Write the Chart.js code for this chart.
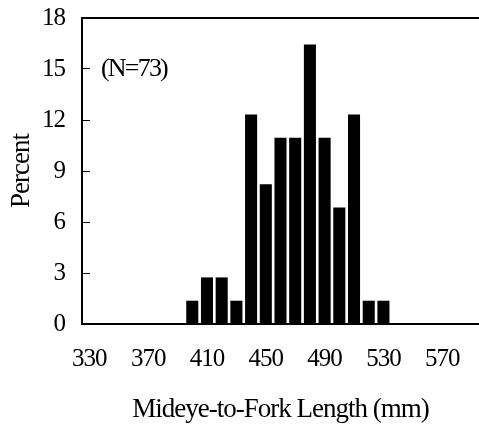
<!DOCTYPE html>
<html>
<head>
<meta charset="utf-8">
<script src="https://cdn.jsdelivr.net/npm/chart.js@4"></script>
<style>
  html, body { margin: 0; padding: 0; background: #fff; }
  #wrap { width: 479px; height: 426px; }
</style>
</head>
<body>
<div id="wrap"><canvas id="lengthChart" width="479" height="426"></canvas></div>
<script>
// 10 mm length bins, 330 - 590
const binStarts = [330, 340, 350, 360, 370, 380, 390, 400, 410, 420, 430, 440, 450, 460,
                   470, 480, 490, 500, 510, 520, 530, 540, 550, 560, 570, 580, 590];
// percent of fish in each bin (N = 73)
const percents = [0, 0, 0, 0, 0, 0, 0, 1.37, 2.74, 2.74, 1.37, 12.33, 8.22, 10.96,
                  10.96, 16.44, 10.96, 6.85, 12.33, 1.37, 1.37, 0, 0, 0, 0, 0, 0];
const xLabelsShown = [330, 370, 410, 450, 490, 530, 570];
const yTicks = [0, 3, 6, 9, 12, 15, 18];
const sampleNote = '(N=73)';

const serif = "'Liberation Serif', 'Times New Roman', serif";

// tighter letters, like the condensed Times in the original
const tightText = {
    id: 'tightText',
    beforeLayout(chart) { chart.ctx.letterSpacing = '-1px'; },
    beforeDraw(chart) { chart.ctx.letterSpacing = '-1px'; }
};

// top frame line + sample size note
const frameAndNote = {
    id: 'frameAndNote',
    afterDraw(chart) {
        const { ctx, chartArea } = chart;
        ctx.save();
        ctx.strokeStyle = '#000';
        ctx.lineWidth = 2;
        ctx.beginPath();
        ctx.moveTo(chartArea.left - 1, chartArea.top);
        ctx.lineTo(chart.width, chartArea.top);
        ctx.stroke();
        ctx.fillStyle = '#000';
        ctx.font = '26px ' + serif;
        ctx.letterSpacing = '-1.8px';
        ctx.textBaseline = 'middle';
        ctx.fillText(sampleNote, chartArea.left + 19, chart.scales.y.getPixelForValue(15));
        ctx.restore();
    }
};

new Chart(document.getElementById('lengthChart').getContext('2d'), {
    type: 'bar',
    data: {
        labels: binStarts,
        datasets: [{
            data: percents,
            backgroundColor: '#000',
            borderWidth: 0,
            categoryPercentage: 1.0,
            barPercentage: 0.82
        }]
    },
    options: {
        responsive: false,
        animation: false,
        layout: { padding: { top: 18, right: 0, left: 0, bottom: 0 } },
        plugins: { legend: { display: false }, tooltip: { enabled: false } },
        scales: {
            x: {
                grid: { display: false, drawTicks: false },
                border: { display: true, color: '#000', width: 2 },
                ticks: {
                    color: '#000',
                    font: { family: serif, size: 25 },
                    padding: 20,
                    autoSkip: false,
                    maxRotation: 0,
                    callback: function (value) {
                        const v = binStarts[value];
                        return xLabelsShown.includes(v) ? String(v) : '';
                    }
                },
                title: {
                    display: true,
                    text: 'Mideye-to-Fork Length (mm)',
                    color: '#000',
                    font: { family: serif, size: 27 },
                    padding: { top: 14, bottom: 0 }
                },
                afterFit(scale) {
                    scale.height = 102;
                    scale.paddingLeft = 0;
                    scale.paddingRight = 0;
                }
            },
            y: {
                min: 0,
                max: 18,
                grid: {
                    display: true,
                    drawOnChartArea: false,
                    drawTicks: true,
                    tickLength: -8,
                    color: '#000',
                    lineWidth: 1
                },
                border: { display: true, color: '#000', width: 2 },
                afterBuildTicks(scale) { scale.ticks = yTicks.map(v => ({ value: v })); },
                ticks: {
                    color: '#000',
                    font: { family: serif, size: 25 },
                    padding: 25
                },
                title: {
                    display: true,
                    text: 'Percent',
                    color: '#000',
                    font: { family: serif, size: 27 },
                    padding: { top: 6, bottom: 0 }
                },
                afterFit(scale) {
                    scale.width = 82;
                    scale.paddingTop = 0;
                    scale.paddingBottom = 0;
                }
            }
        }
    },
    plugins: [tightText, frameAndNote]
});
</script>
</body>
</html>
